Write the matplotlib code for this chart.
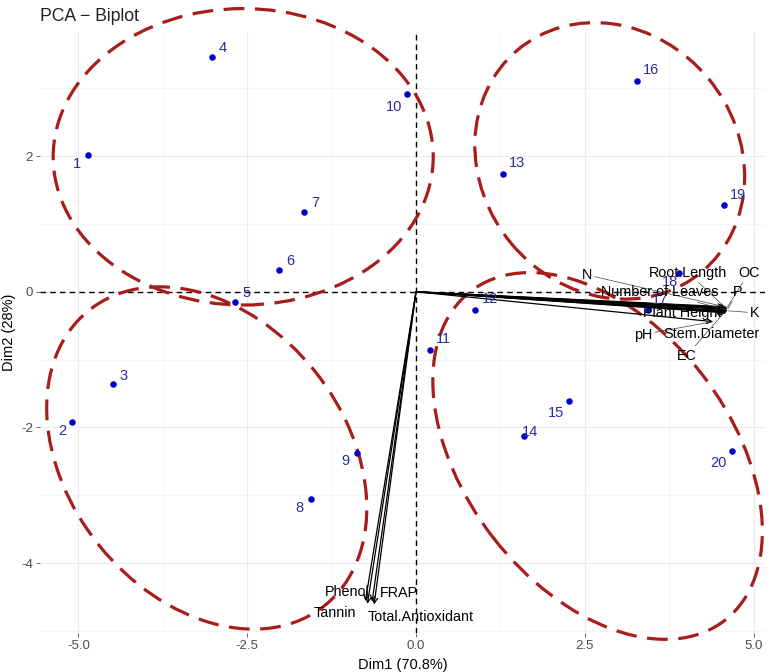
import matplotlib
matplotlib.use("Agg")
import matplotlib.pyplot as plt
from matplotlib.patches import Ellipse

plt.rcParams["font.family"] = ["Liberation Sans", "DejaVu Sans"]
plt.rcParams["axes.unicode_minus"] = False

# ── individuals (PCA scores) ──
IND_NAMES = [str(i) for i in range(1, 21)]
IND_X = [-4.86, -5.09, -4.49, -3.02, -2.68, -2.03, -1.66, -1.56, -0.88, -0.13,
         0.21, 0.87, 1.29, 1.60, 2.26, 3.27, 3.43, 3.90, 4.57, 4.68]
IND_Y = [2.01, -1.92, -1.36, 3.46, -0.15, 0.32, 1.18, -3.06, -2.38, 2.92,
         -0.86, -0.27, 1.74, -2.13, -1.61, 3.11, -0.27, 0.28, 1.28, -2.34]

# ── variables (loadings, scaled) ──
VAR_NAMES = ["N", "Root.Length", "OC", "Number of Leaves", "P", "K",
             "Plant Height", "pH", "Stem.Diameter", "EC",
             "Phenol", "Tannin", "FRAP", "Total.Antioxidant"]
VAR_X = [4.57, 4.59, 4.61, 4.58, 4.62, 4.62, 4.56, 4.40, 4.60, 4.57,
         -0.75, -0.72, -0.65, -0.62]
VAR_Y = [-0.22, -0.24, -0.23, -0.26, -0.25, -0.28, -0.29, -0.44, -0.31, -0.30,
         -4.56, -4.60, -4.57, -4.61]

# ── cluster ellipses: centre, width, height, angle ──
ELL_CX = [-2.56, -3.10, 2.87, 2.69]
ELL_CY = [1.99, -2.45, 1.93, -2.42]
ELL_W = [5.63, 5.58, 4.26, 6.14]
ELL_H = [4.37, 4.10, 3.80, 3.92]
ELL_ANGLE = [0, -51, -50, -52]

X_TICKS = [-5.0, -2.5, 0.0, 2.5, 5.0]
X_TICKLABELS = ["-5.0", "-2.5", "0.0", "2.5", "5.0"]
Y_TICKS = [-4, -2, 0, 2]
Y_TICKLABELS = ["-4", "-2", "0", "2"]

# label placement (repel-like offsets, pixels)
IND_NUDGE = [(-11, -9), (-10, -9), (11, 8), (11, 9), (11, 9), (11, 9), (11, 9),
             (-11, -9), (-11, -8), (-13, -13), (13, 11), (15, 11), (14, 11),
             (6, 4), (-13, -12), (14, 11), (12, 10), (-9, -9), (14, 10), (-13, -12)]
VAR_LABEL_POS = [(2.53, 0.25), (4.03, 0.28), (4.93, 0.28), (3.61, -0.01),
                 (4.77, 0.0), (5.02, -0.31), (3.94, -0.31), (3.36, -0.63),
                 (4.37, -0.62), (4.01, -0.94), (-1.02, -4.42), (-1.20, -4.73),
                 (-0.25, -4.44), (0.07, -4.79)]
LEADER = {"N", "Root.Length", "OC", "K", "EC", "pH", "Number of Leaves", "P"}

ELL_COLOR = "#A91C1C"
PT_COLOR = "#0000CD"
LBL_COLOR = "#2B2B9E"

fig = plt.figure(figsize=(7.72, 6.72), dpi=100)
ax = fig.add_axes([40 / 772, 1 - 633 / 672, 725 / 772, 601 / 672])
ax.set_xlim(-5.57, 5.17)
ax.set_ylim(-5.03, 3.83)

# grid (theme_minimal style)
for s in ax.spines.values():
    s.set_visible(False)
ax.set_xticks(X_TICKS)
ax.set_xticklabels(X_TICKLABELS)
ax.set_yticks(Y_TICKS)
ax.set_yticklabels(Y_TICKLABELS)
ax.set_xticks([-3.75, -1.25, 1.25, 3.75], minor=True)
ax.set_yticks([-5, -3, -1, 1, 3], minor=True)
ax.grid(True, which="major", color="#EBEBEB", lw=0.8, zorder=0)
ax.grid(True, which="minor", color="#F2F2F2", lw=0.5, zorder=0)
ax.set_axisbelow(True)
ax.tick_params(which="major", length=3, width=0.6, color="#555555",
               labelsize=9.5, labelcolor="#4D4D4D", pad=2)
ax.tick_params(which="minor", length=0)

# reference lines
ax.axhline(0, color="black", lw=1.0, ls=(0, (4, 3)), zorder=2)
ax.axvline(0, color="black", lw=1.0, ls=(0, (4, 3)), zorder=2)

# ellipses
for cx, cy, w, h, a in zip(ELL_CX, ELL_CY, ELL_W, ELL_H, ELL_ANGLE):
    ax.add_patch(Ellipse((cx, cy), w, h, angle=a, fill=False, ec=ELL_COLOR,
                         lw=2.3, ls=(0, (6.5, 3.3)), zorder=3, clip_on=False))

# individuals
ax.scatter(IND_X, IND_Y, s=22, color=PT_COLOR, zorder=5, linewidths=0)
for name, x, y, (dx, dy) in zip(IND_NAMES, IND_X, IND_Y, IND_NUDGE):
    ax.annotate(name, (x, y), xytext=(dx, dy), textcoords="offset pixels",
                ha="center", va="center", fontsize=10.5, color=LBL_COLOR,
                zorder=6)

# variable arrows
for x, y in zip(VAR_X, VAR_Y):
    ax.annotate("", xy=(x, y), xytext=(0, 0),
                arrowprops=dict(arrowstyle="->", lw=0.9, color="black",
                                shrinkA=0, shrinkB=0, mutation_scale=9),
                zorder=4)

# variable labels
for name, x, y, (lx, ly) in zip(VAR_NAMES, VAR_X, VAR_Y, VAR_LABEL_POS):
    if name in LEADER:
        ax.annotate(name, xy=(x, y), xytext=(lx, ly), ha="center", va="center",
                    fontsize=10.4, color="black", zorder=7,
                    arrowprops=dict(arrowstyle="-", lw=0.5, color="#444444",
                                    shrinkA=0, shrinkB=0))
    else:
        ax.text(lx, ly, name, ha="center", va="center", fontsize=10.4,
                color="black", zorder=7)

ax.set_xlabel("Dim1 (70.8%)", fontsize=10.5, labelpad=4)
ax.set_ylabel("Dim2 (28%)", fontsize=10.5, labelpad=4)
ax.set_title("PCA \u2212 Biplot", loc="left", fontsize=12.7, color="#222222", pad=8)

fig.savefig("out.png", dpi=100)
